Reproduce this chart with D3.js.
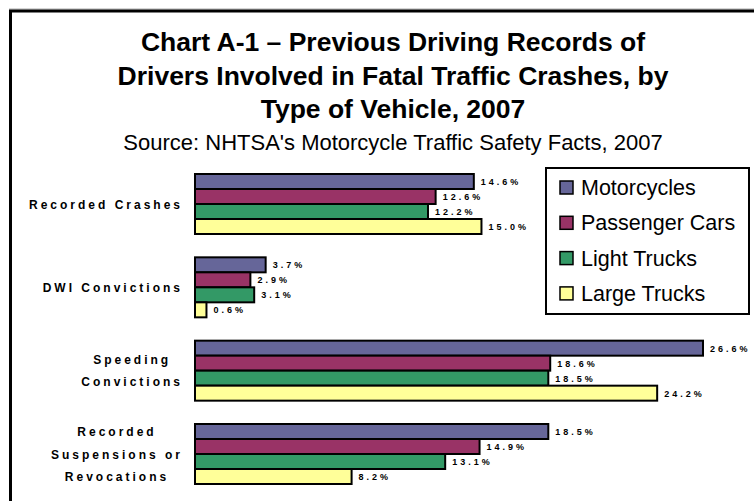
<html>
<head>
<script src="https://d3js.org/d3.v7.min.js"></script>
<style>
  body { margin: 0; background: #fff; }
  text { font-family: "Liberation Sans", Arial, sans-serif; }
</style>
</head>
<body>
<div id="chart"></div>
<script>
// categories (each entry is the list of label lines)
var categories = ["Recorded Crashes", "DWI Convictions", "Speeding Convictions", "Recorded Suspensions or Revocations"];
var categoryLines = [["Recorded Crashes"], ["DWI Convictions"], ["Speeding", "Convictions"], ["Recorded", "Suspensions or", "Revocations"]];
var series = ["Motorcycles", "Passenger Cars", "Light Trucks", "Large Trucks"];
var colors = ["#666699", "#993366", "#339966", "#ffff99"];
var motorcycles = [14.6, 3.7, 26.6, 18.5];
var passengerCars = [12.6, 2.9, 18.6, 14.9];
var lightTrucks = [12.2, 3.1, 18.5, 13.1];
var largeTrucks = [15.0, 0.6, 24.2, 8.2];
var titleLines = ["Chart A-1 \u2013 Previous Driving Records of", "Drivers Involved in Fatal Traffic Crashes, by", "Type of Vehicle, 2007"];
var sourceLine = "Source: NHTSA's Motorcycle Traffic Safety Facts, 2007";

var width = 754, height = 501;
var values = [motorcycles, passengerCars, lightTrucks, largeTrucks];

var svg = d3.select("#chart").append("svg")
  .attr("width", width)
  .attr("height", height);

// outer frame (runs off the right and bottom edge)
svg.append("line").attr("x1", 9).attr("x2", width).attr("y1", 9).attr("y2", 9)
  .attr("stroke", "#aaa").attr("stroke-width", 1);
svg.append("rect")
  .attr("x", 10.5).attr("y", 11)
  .attr("width", 800).attr("height", 600)
  .attr("fill", "none").attr("stroke", "#000").attr("stroke-width", 3);

// title
var cx = 393;
svg.selectAll("text.title").data(titleLines).enter().append("text")
  .attr("class", "title")
  .attr("x", cx)
  .attr("y", function(d, i){ return 51 + i * 33.5; })
  .attr("text-anchor", "middle")
  .style("font-size", "26.5px")
  .style("font-weight", "bold")
  .text(function(d){ return d; });

svg.append("text")
  .attr("x", cx).attr("y", 150)
  .attr("text-anchor", "middle")
  .style("font-size", "22px")
  .text(sourceLine);

// scales
var x = d3.scaleLinear().domain([0, 26.6]).range([195, 703]);
var y0 = d3.scaleBand().domain(categories).range([174, 484]).paddingInner(0.28);
var y1 = d3.scaleBand().domain(series).range([0, y0.bandwidth()]);
var color = d3.scaleOrdinal().domain(series).range(colors);

var groups = svg.selectAll("g.grp").data(categories).enter().append("g")
  .attr("class", "grp")
  .attr("transform", function(d){ return "translate(0," + y0(d) + ")"; });

groups.each(function(cat, ci){
  var g = d3.select(this);
  var rows = series.map(function(s, si){ return {s: s, v: values[si][ci]}; });
  g.selectAll("rect").data(rows).enter().append("rect")
    .attr("x", x(0))
    .attr("y", function(d){ return y1(d.s); })
    .attr("width", function(d){ return x(d.v) - x(0); })
    .attr("height", y1.bandwidth())
    .attr("fill", function(d){ return color(d.s); })
    .attr("stroke", "#000")
    .attr("stroke-width", 2);
  g.selectAll("text.val").data(rows).enter().append("text")
    .attr("class", "val")
    .attr("x", function(d){ return x(d.v) + 7; })
    .attr("y", function(d){ return y1(d.s) + y1.bandwidth() / 2 + 3.5; })
    .style("font-size", "9px")
    .style("font-weight", "bold")
    .style("letter-spacing", "3px")
    .text(function(d){ return d.v.toFixed(1) + "%"; });

  // category label, lines centred, block right aligned
  var lines = categoryLines[ci];
  var lh = 22.5;
  var mid = y0.bandwidth() / 2;
  var lab = g.append("g");
  var t = lab.selectAll("text").data(lines).enter().append("text")
    .attr("x", 0)
    .attr("y", function(d, i){ return mid + (i - (lines.length - 1) / 2) * lh + 4.5; })
    .attr("text-anchor", "middle")
    .style("font-size", "12px")
    .style("font-weight", "bold")
    .style("letter-spacing", "3px")
    .text(function(d){ return d; });
  var maxW = 0;
  t.each(function(){ maxW = Math.max(maxW, this.getComputedTextLength()); });
  lab.attr("transform", "translate(" + (183 - maxW / 2) + ",0)");
});

// legend
var legend = svg.append("g");
legend.append("rect")
  .attr("x", 546).attr("y", 168).attr("width", 203).attr("height", 146)
  .attr("fill", "#fff").attr("stroke", "#000").attr("stroke-width", 2);
var items = legend.selectAll("g.item").data(series).enter().append("g")
  .attr("class", "item")
  .attr("transform", function(d, i){ return "translate(560," + (187 + i * 35.3) + ")"; });
items.append("rect")
  .attr("x", 0).attr("y", -6).attr("width", 13).attr("height", 13)
  .attr("fill", function(d){ return color(d); })
  .attr("stroke", "#000").attr("stroke-width", 1.5);
items.append("text")
  .attr("x", 21).attr("y", 8)
  .style("font-size", "21.5px")
  .text(function(d){ return d; });
</script>
</body>
</html>
